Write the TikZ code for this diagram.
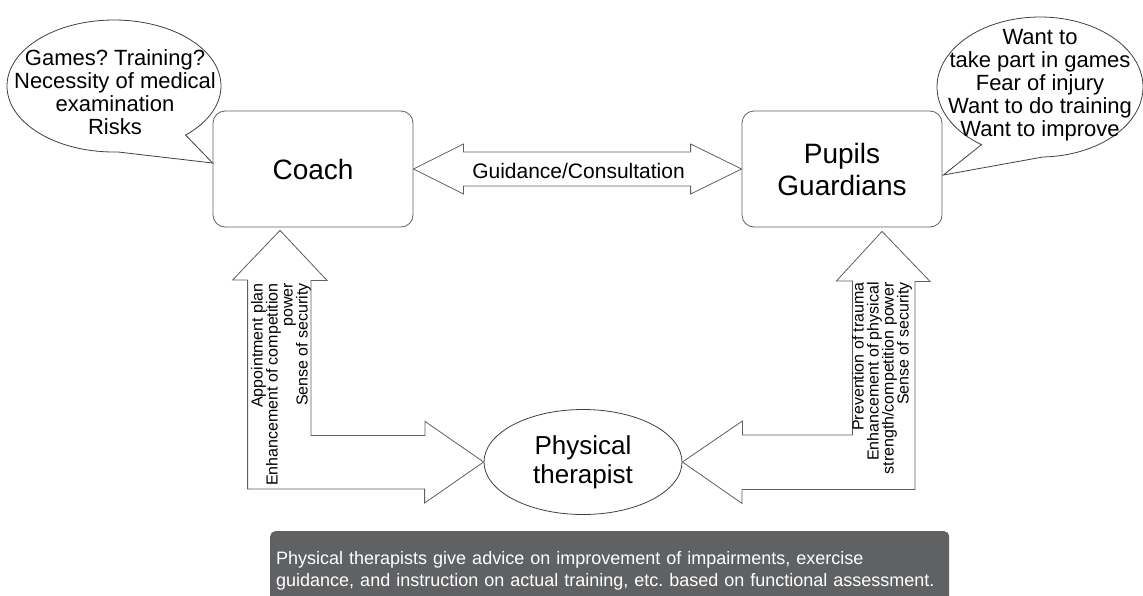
\documentclass[tikz,border=0pt]{standalone}
\usepackage{fontspec}
\setmainfont{Liberation Sans}
\usetikzlibrary{calc,shapes.geometric}

\definecolor{notegray}{RGB}{96,97,99}
\definecolor{edgegray}{RGB}{95,95,95}

\tikzset{
  party/.style={draw=edgegray, line width=0.8pt, rounded corners=12pt,
    minimum width=200pt, minimum height=116pt, align=center,
    font=\fontsize{28}{32}\selectfont},
  bigarrow/.style={draw=edgegray, line width=0.8pt, fill=white},
  bubble/.style={draw=black!75, line width=0.8pt, fill=white},
  bubbletext/.style={align=center, inner sep=0pt,
    font=\fontsize{22}{23}\selectfont},
  sidelabel/.style={rotate=90, anchor=east, align=right, inner sep=0pt,
    font=\fontsize{16}{15}\selectfont},
}

\begin{document}
\frenchspacing
\begin{tikzpicture}[x=1pt, y=-1pt]
\useasboundingbox (0,0) rectangle (1143,595);

% parties
\node[party] (coach) at (313,169) {Coach};
\node[party] (pupils) at (842,169) {Pupils\\Guardians};
\node[draw=black!75, line width=0.8pt, ellipse, minimum width=198pt, minimum height=105pt,
  inner sep=0pt, align=center, font=\fontsize{26}{29}\selectfont] (pt) at (583,462) {Physical\\therapist};

% speech bubbles
\coordinate (cq) at (114,86);
\draw[bubble] ([shift={(88:107 and 66)}]cq) arc[start angle=88, end angle=408, x radius=107, y radius=66]
  -- ($(coach.west)+(0,-6)$) -- cycle;
\node[bubbletext] (coachq) at ($(cq)+(1,6)$) {Games? Training?\\Necessity of medical\\examination\\Risks};

\coordinate (pq) at (1040,87);
\draw[bubble] ([shift={(124.6:103 and 70)}]pq) arc[start angle=124.6, end angle=448.3, x radius=103, y radius=70]
  -- ($(pupils.east)+(1,6)$) -- cycle;
\node[bubbletext] (pupilq) at ($(pq)+(0,-2)$) {Want to\\take part in games\\Fear of injury\\Want to do training\\Want to improve};

% guidance arrow
\draw[bigarrow] (coach.east) -- ++(50,-25) -- ++(0,8) -- ($(pupils.west)+(-51,-17)$) -- ++(0,-8)
  -- (pupils.west) -- ++(-51,25) -- ++(0,-8) -- ($(coach.east)+(50,17)$) -- ++(0,8) -- cycle;
\node[font=\fontsize{21}{23}\selectfont] (guide) at ($(coach.east)!0.5!(pupils.west)+(1,2)$) {Guidance/Consultation};

% L arrows to the therapist
\coordinate (lt) at ($(coach.south)+(-33,3)$);
\draw[bigarrow] (lt) -- ++(47,50) -- ++(-16,0) -- ++(0,155) -- ++(114,0) -- ++(0,-14)
  -- (pt.west) -- ++(-59,41) -- ++(0,-14) -- ++(-177,0) -- ++(0,-209) -- ++(-15,0) -- cycle;

\coordinate (rt) at ($(pupils.south)+(40,4)$);
\draw[bigarrow] (rt) -- ++(48,50) -- ++(-15,0) -- ++(0,208) -- ++(-173,0) -- ++(0,14)
  -- (pt.east) -- ++(60,-41) -- ++(0,14) -- ++(110,0) -- ++(0,-154) -- ++(-16,0) -- cycle;

\node[sidelabel] (coachgain) at (281,283) {Appointment plan\\Enhancement of competition\\power\\Sense of security};
\node[sidelabel] (pupilgain) at (882,282) {Prevention of trauma\\Enhancement of physical\\strength/competition power\\Sense of security};

% note
\node[fill=notegray, rounded corners=5pt, anchor=north west, minimum height=80pt,
  text width=667pt, inner xsep=6pt, align=left, text=white,
  font=\fontsize{18}{22}\selectfont] (note) at (270,531)
  {Physical therapists give advice on improvement of impairments, exercise\\guidance, and instruction on actual training, etc. based on functional assessment.};
\end{tikzpicture}
\end{document}
